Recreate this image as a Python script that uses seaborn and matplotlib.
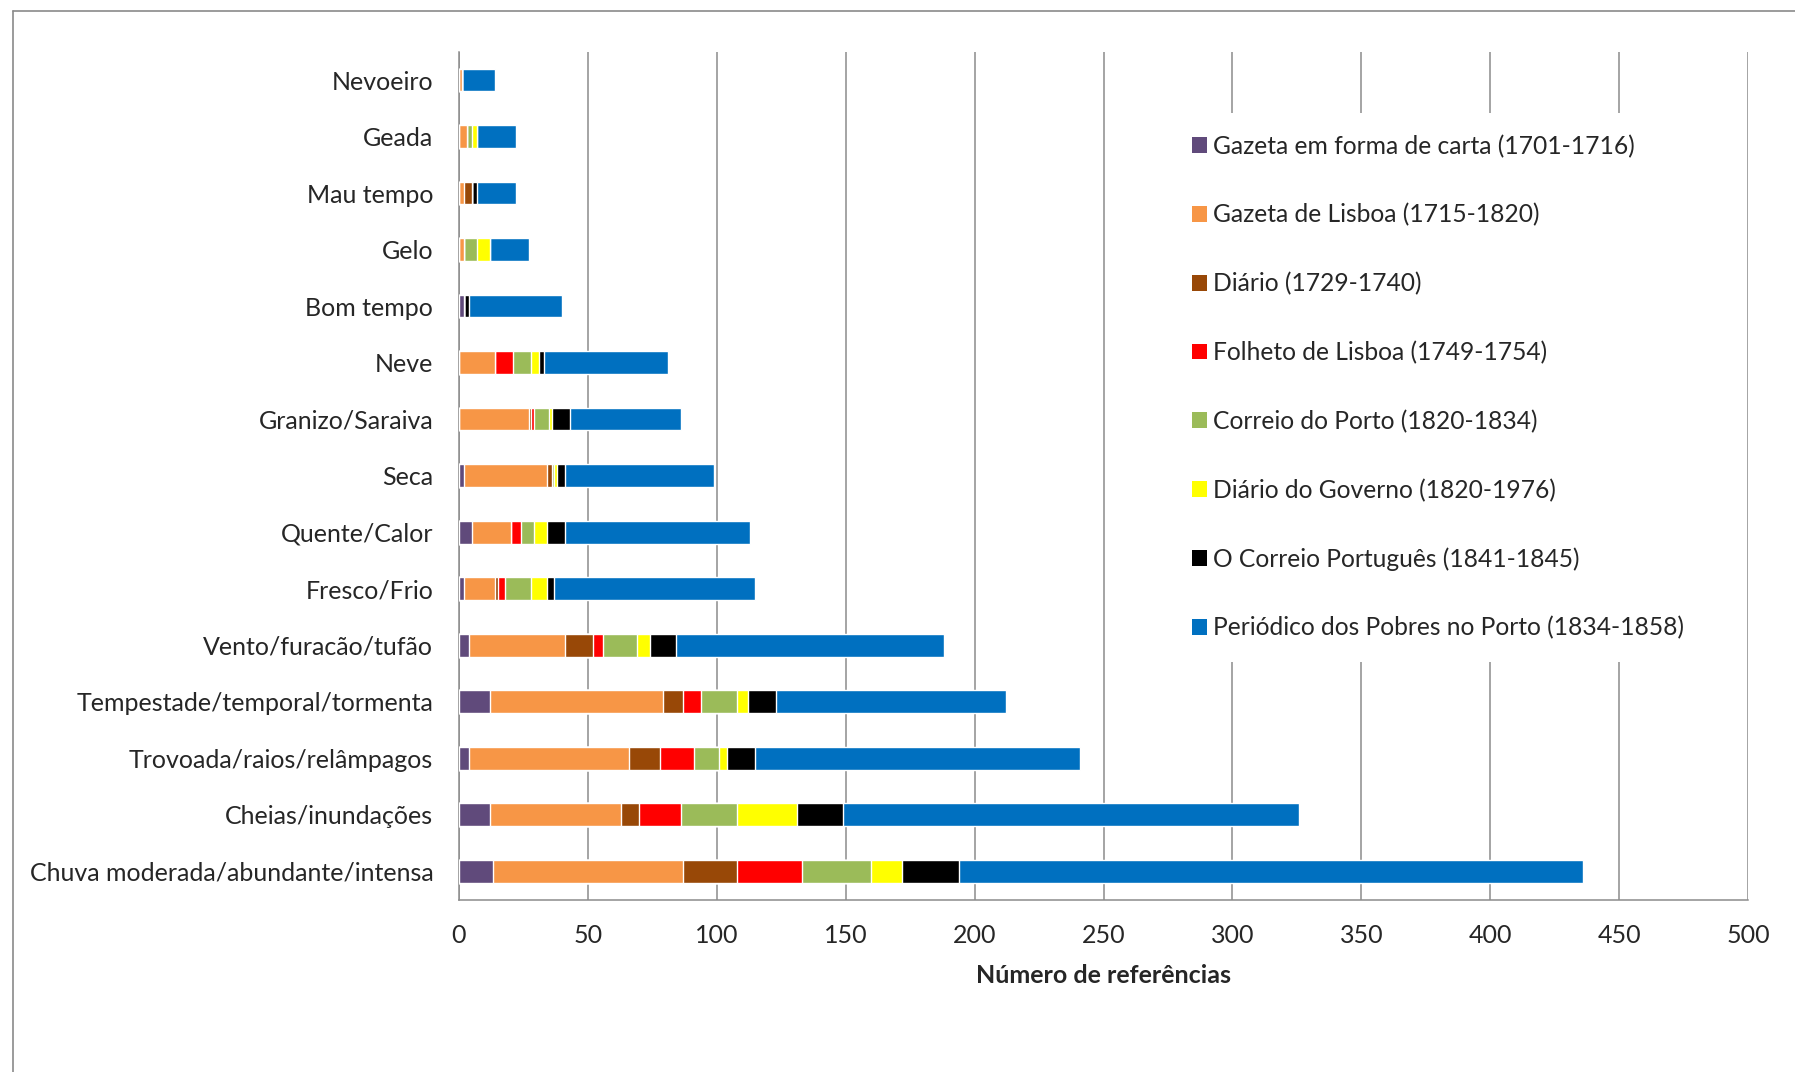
import matplotlib
matplotlib.use("Agg")
import matplotlib.pyplot as plt
from matplotlib.patches import Patch
from matplotlib.lines import Line2D
import numpy as np
import pandas as pd
import seaborn as sns

# Weather phenomena, top to bottom
categories = [
    "Nevoeiro", "Geada", "Mau tempo", "Gelo", "Bom tempo", "Neve",
    "Granizo/Saraiva", "Seca", "Quente/Calor", "Fresco/Frio",
    "Vento/furacão/tufão", "Tempestade/temporal/tormenta",
    "Trovoada/raios/relâmpagos", "Cheias/inundações",
    "Chuva moderada/abundante/intensa",
]

# Number of references per newspaper
gazeta_carta = [0, 0, 0, 0, 2, 0, 0, 2, 5, 2, 4, 12, 4, 12, 13]
gazeta_lisboa = [1, 3, 2, 2, 0, 14, 27, 32, 15, 12, 37, 67, 62, 51, 74]
diario = [0, 0, 3, 0, 0, 0, 1, 2, 0, 1, 11, 8, 12, 7, 21]
folheto_lisboa = [0, 0, 0, 0, 0, 7, 1, 0, 4, 3, 4, 7, 13, 16, 25]
correio_porto = [0, 2, 0, 5, 0, 7, 6, 1, 5, 10, 13, 14, 10, 22, 27]
diario_governo = [0, 2, 0, 5, 0, 3, 1, 1, 5, 6, 5, 4, 3, 23, 12]
correio_portugues = [0, 0, 2, 0, 2, 2, 7, 3, 7, 3, 10, 11, 11, 18, 22]
periodico_pobres = [13, 15, 15, 15, 36, 48, 43, 58, 72, 78, 104, 89, 126, 177, 242]

series_names = [
    "Gazeta em forma de carta (1701-1716)",
    "Gazeta de Lisboa (1715-1820)",
    "Diário (1729-1740)",
    "Folheto de Lisboa (1749-1754)",
    "Correio do Porto (1820-1834)",
    "Diário do Governo (1820-1976)",
    "O Correio Português (1841-1845)",
    "Periódico dos Pobres no Porto (1834-1858)",
]
series_values = [
    gazeta_carta, gazeta_lisboa, diario, folheto_lisboa,
    correio_porto, diario_governo, correio_portugues, periodico_pobres,
]
series_colors = [
    "#604A7B", "#F79646", "#984807", "#FF0000",
    "#9BBB59", "#FFFF00", "#000000", "#0070C0",
]
x_ticks = [0, 50, 100, 150, 200, 250, 300, 350, 400, 450, 500]

sns.set_style("white")
plt.rcParams["font.family"] = ["Lato", "DejaVu Sans"]
FS = 18
LEG_FS = 17.7
GRID = "#8C8C8C"

fig = plt.figure(figsize=(17.95, 10.72), dpi=100)
ax = fig.add_axes([459 / 1795, 1 - 899.5 / 1072, (1748 - 459) / 1795, (899.5 - 51.9) / 1072])

# Stacked bars: draw cumulative totals from the outermost segment inwards
data = pd.DataFrame({name: vals for name, vals in zip(series_names, series_values)},
                    index=categories)
cum = data.cumsum(axis=1)
for name, color in reversed(list(zip(series_names, series_colors))):
    sns.barplot(x=cum[name].values, y=categories, order=categories,
                orient="h", color=color, saturation=1, width=0.4,
                errorbar=None, ax=ax, zorder=3)

ax.set_xlim(0, 500)
ax.set_ylim(len(categories) - 0.5, -0.5)
ax.set_xticks(x_ticks)
ax.set_xticklabels([str(t) for t in x_ticks], fontsize=FS)
ax.xaxis.grid(True, color=GRID, linewidth=1.1, zorder=0)
ax.set_axisbelow(True)
ax.yaxis.grid(False)

ax.tick_params(axis="y", which="major", length=0, pad=18.5, labelsize=FS)
ax.set_yticks(np.arange(len(categories) + 1) - 0.5, minor=True)
ax.tick_params(axis="y", which="minor", length=6.5, width=1.1, color=GRID, direction="out")
ax.tick_params(axis="x", which="major", length=3.6, width=1.1, color=GRID,
               direction="out", pad=14)

for side in ["top", "right"]:
    ax.spines[side].set_visible(False)
for side in ["left", "bottom"]:
    ax.spines[side].set_color(GRID)
    ax.spines[side].set_linewidth(1.1)

ax.set_ylabel("")
ax.set_xlabel("Número de referências", fontsize=FS, fontweight="bold", labelpad=12)

handles = [Patch(facecolor=c, edgecolor="none") for c in series_colors]
leg = ax.legend(handles, series_names, loc="upper left",
                bbox_to_anchor=(1170 / 1795, 1 - 112.5 / 1072),
                bbox_transform=fig.transFigure, fontsize=LEG_FS,
                frameon=True, facecolor="white", edgecolor="none", framealpha=1,
                handlelength=0.61, handleheight=0.61, handletextpad=0.25,
                labelspacing=1.85, borderpad=0.9, borderaxespad=0)
leg.set_zorder(5)

# Outer chart frame
fig.add_artist(Line2D([12.5 / 1795, 12.5 / 1795], [0, 1 - 10.7 / 1072],
                      transform=fig.transFigure, color="#8A8A8A", linewidth=1.2))
fig.add_artist(Line2D([12.5 / 1795, 1], [1 - 10.7 / 1072, 1 - 10.7 / 1072],
                      transform=fig.transFigure, color="#8A8A8A", linewidth=1.2))

fig.savefig("out.png", dpi=100, facecolor="white")
